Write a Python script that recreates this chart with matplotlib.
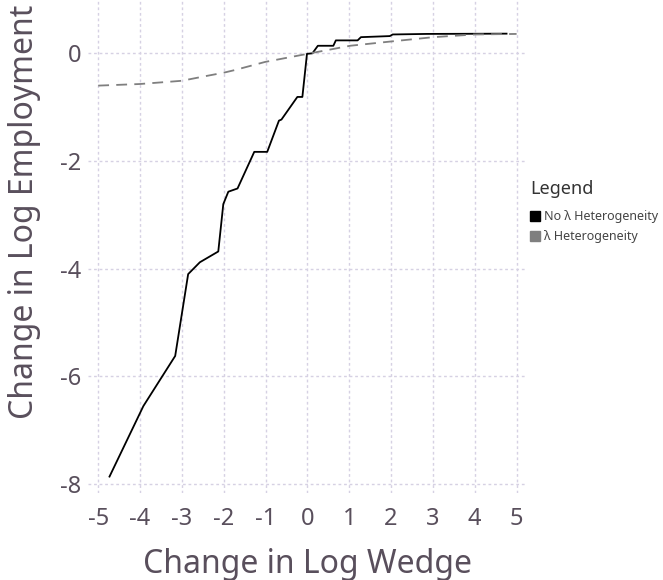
import matplotlib
matplotlib.use("Agg")
import matplotlib.pyplot as plt
from matplotlib.lines import Line2D

plt.rcParams["font.family"] = ["Noto Sans", "DejaVu Sans"]

TXT = "#594f5c"
GRID = "#d6d1e3"

# employment response without lambda heterogeneity
no_het_x = [-4.73, -3.92, -3.16, -2.85, -2.57, -2.13, -2.01, -1.89, -1.67, -1.27,
            -0.96, -0.68, -0.62, -0.24, -0.12, -0.01, 0.12, 0.25, 0.62, 0.68,
            1.20, 1.28, 1.97, 2.04, 2.85, 4.76]
no_het_y = [-7.86, -6.55, -5.62, -4.10, -3.88, -3.68, -2.80, -2.57, -2.51, -1.83,
            -1.83, -1.25, -1.23, -0.81, -0.81, -0.01, 0.00, 0.14, 0.14, 0.24,
            0.24, 0.30, 0.32, 0.35, 0.36, 0.365]

# employment response with lambda heterogeneity
het_x = [-5.0, -4.0, -3.0, -2.41, -2.0, -1.73, -1.01, 0.0, 1.02, 2.0, 3.01, 4.0, 5.0]
het_y = [-0.60, -0.57, -0.51, -0.42, -0.36, -0.31, -0.16, -0.01, 0.14, 0.22, 0.30, 0.35, 0.36]

xticks = [-5, -4, -3, -2, -1, 0, 1, 2, 3, 4, 5]
yticks = [-8, -6, -4, -2, 0]

fig = plt.figure(figsize=(6.63, 5.8), dpi=100)
ax = fig.add_axes([88 / 663, 1 - 493 / 580, 439 / 663, 493 / 580])

ax.plot(no_het_x, no_het_y, color="black", lw=1.3, label="No λ Heterogeneity")
ax.plot(het_x, het_y, color="#7f7f7f", lw=1.3, dashes=(6, 4), label="λ Heterogeneity")

ax.set_xlim(-5.244, 5.249)
ax.set_ylim(-8.165, 0.99)
ax.set_xticks(xticks)
ax.set_yticks(yticks)
ax.set_xticklabels([str(t) for t in xticks])
ax.set_yticklabels([str(t) for t in yticks])
ax.tick_params(length=0, labelsize=17, labelcolor=TXT)
ax.tick_params(axis="x", pad=10)
ax.tick_params(axis="y", pad=5)
ax.grid(True, color=GRID, lw=1, ls=(0, (2, 2)))
ax.set_axisbelow(True)
for s in ax.spines.values():
    s.set_visible(False)

fig.text(307.5 / 663, 1 - 573 / 580, "Change in Log Wedge", ha="center", va="baseline",
         fontsize=23, color=TXT)
fig.text(25 / 663, 1 - 212 / 580, "Change in Log Employment", ha="center", va="center",
         rotation=90, fontsize=23, color=TXT)

handles = [Line2D([], [], ls="none", marker="s", ms=6.5, color="black"),
           Line2D([], [], ls="none", marker="s", ms=6.5, color="#7f7f7f")]
leg = fig.legend(handles, ["No λ Heterogeneity", "λ Heterogeneity"], title="Legend",
                 loc="upper left", bbox_to_anchor=(526 / 663, 1 - 176 / 580),
                 frameon=False, fontsize=9, title_fontsize=13, alignment="left",
                 handlelength=0.8, handletextpad=0.3, labelspacing=0.55,
                 borderaxespad=0, borderpad=0.3)
leg._legend_box.sep = 9
leg.get_title().set_color("#333333")
for t in leg.get_texts():
    t.set_color("#444444")

fig.savefig("out.png", dpi=100)
